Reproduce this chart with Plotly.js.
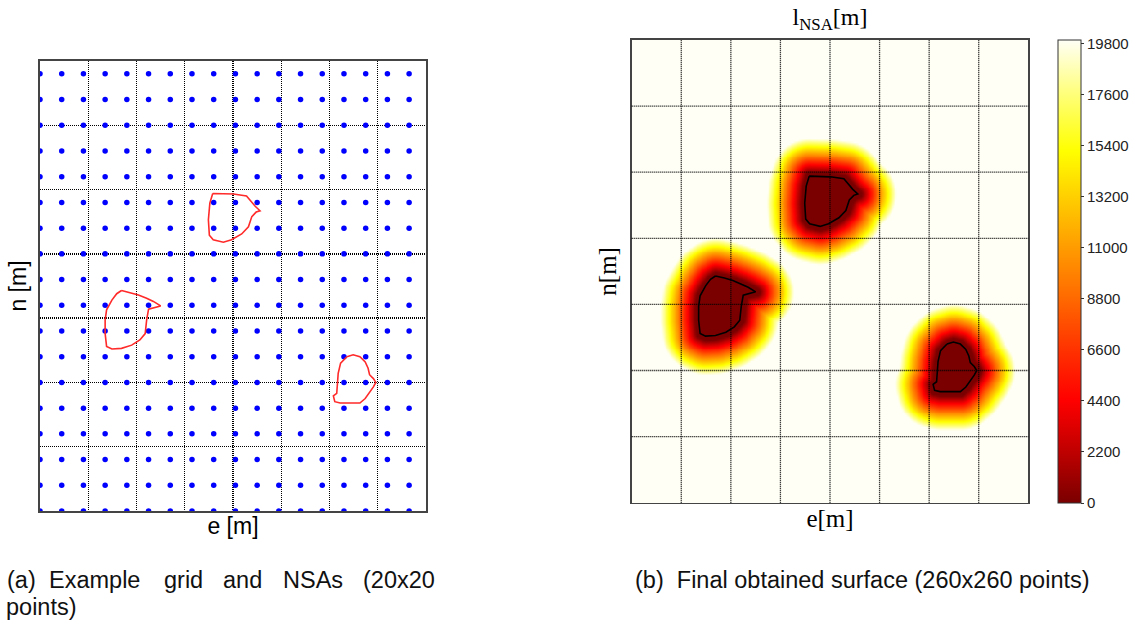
<!DOCTYPE html>
<html><head><meta charset="utf-8">
<script src="https://cdn.plot.ly/plotly-3.0.1.min.js"></script>
<style>html,body{margin:0;padding:0;background:#fff}#chart{width:1137px;height:627px}</style>
</head><body><div id="chart"></div>
<script>
// ---- DATA ----
// 20x20 sample grid (axis units)
const gridE = [0,0.45,0.9,1.35,1.8,2.25,2.7,3.15,3.6,4.05,4.5,4.95,5.4,5.85,6.3,6.75,7.2,7.65,8.1,8.55];
const gridN = [0,0.4,0.8,1.2,1.6,2.0,2.4,2.8,3.2,3.6,4.0,4.4,4.8,5.2,5.6,6.0,6.4,6.8,7.2,7.6];

// NSA contours
const nsa1E = [3.58,4.01,4.28,4.46,4.56,4.48,4.39,4.32,4.18,3.97,3.80,3.59,3.51,3.49,3.52,3.58];
const nsa1N = [4.94,4.93,4.90,4.74,4.67,4.65,4.58,4.42,4.31,4.22,4.18,4.22,4.29,4.53,4.79,4.94];

const nsa2E = [1.69,1.87,2.04,2.21,2.35,2.50,2.38,2.25,2.21,2.18,2.07,1.90,1.69,1.49,1.38,1.35,1.35,1.38,1.49,1.59,1.69];
const nsa2N = [3.43,3.40,3.36,3.31,3.26,3.19,3.17,3.14,2.97,2.76,2.66,2.58,2.53,2.52,2.56,2.76,2.97,3.13,3.28,3.38,3.43];

const nsa3E = [6.36,6.49,6.63,6.74,6.80,6.83,6.91,6.96,6.91,6.84,6.74,6.63,6.43,6.22,6.11,6.08,6.15,6.16,6.18,6.23,6.36];
const nsa3N = [2.40,2.43,2.40,2.32,2.22,2.12,2.06,2.00,1.93,1.86,1.75,1.68,1.68,1.68,1.70,1.79,1.83,1.99,2.14,2.30,2.40];

// surface colour scale / ticks
const lMax = 19950;
const cbTicks = [0,2200,4400,6600,8800,11000,13200,15400,17600,19800];
// distance (e-units) where l_NSA starts rising and where it saturates, n/e metric ratio
const rampStart = 0.08, rampEnd = 0.77, nScale = 1.333;

// ---- surface l_NSA computed from NSA contours (260x260) ----
const NS = 260;
const surfE = [], surfN = [];
for (let i = 0; i < NS; i++) { surfE.push(8.55 * i / (NS - 1)); surfN.push(7.6 * i / (NS - 1)); }
const polys = [[nsa1E, nsa1N], [nsa2E, nsa2N], [nsa3E, nsa3N]];
function segDist(px, py, ax, ay, bx, by) {
  const dx = bx - ax, dy = by - ay, L = dx * dx + dy * dy;
  let t = L ? ((px - ax) * dx + (py - ay) * dy) / L : 0;
  t = Math.max(0, Math.min(1, t));
  return Math.hypot(ax + t * dx - px, ay + t * dy - py);
}
function inside(px, py, xs, ys) {
  let c = false;
  for (let i = 0, j = xs.length - 1; i < xs.length; j = i++) {
    if (((ys[i] > py) !== (ys[j] > py)) && (px < (xs[j] - xs[i]) * (py - ys[i]) / (ys[j] - ys[i]) + xs[i])) c = !c;
  }
  return c;
}
const surfZ = [];
for (let r = 0; r < NS; r++) {
  const row = [];
  const py = surfN[r];
  for (let c = 0; c < NS; c++) {
    const px = surfE[c];
    let d = Infinity;
    for (const [xs, ys] of polys) {
      if (inside(px, py, xs, ys)) { d = 0; break; }
      for (let k = 0; k < xs.length - 1; k++) {
        const v = segDist(px, py * nScale, xs[k], ys[k] * nScale, xs[k + 1], ys[k + 1] * nScale);
        if (v < d) d = v;
      }
    }
    let f = (d - rampStart) / (rampEnd - rampStart);
    f = Math.max(0, Math.min(1, f));
    row.push(f * lMax);
  }
  surfZ.push(row);
}

// ---- traces ----
const dotX = [], dotY = [];
for (const n of gridN) for (const e of gridE) { dotX.push(e); dotY.push(n); }

const traces = [
  {type: 'scatter', mode: 'markers', x: dotX, y: dotY, xaxis: 'x', yaxis: 'y',
   marker: {size: 5.5, color: '#0000ff'}, hoverinfo: 'skip', cliponaxis: true},
];
for (const [xs, ys] of polys) {
  traces.push({type: 'scatter', mode: 'lines', x: xs, y: ys, xaxis: 'x', yaxis: 'y',
    line: {color: '#ff2a2a', width: 1.6}, hoverinfo: 'skip'});
}
traces.push({
  type: 'heatmap', x: surfE, y: surfN, z: surfZ, xaxis: 'x2', yaxis: 'y2',
  zmin: 0, zmax: lMax, zsmooth: 'best', hoverinfo: 'skip',
  colorscale: [[0, '#7a0000'], [0.111, '#bf0000'], [0.222, '#ff0000'], [0.333, '#ff3300'],
               [0.444, '#ff6a00'], [0.556, '#ff9e00'], [0.667, '#ffd200'], [0.76, '#ffff00'],
               [0.889, '#ffff80'], [1, '#fffff6']],
  colorbar: {x: 1058 / 1137, xanchor: 'left', y: 1 - 40 / 627, yanchor: 'top',
    len: 463 / 627, lenmode: 'fraction', thickness: 23, thicknessmode: 'pixels',
    outlinewidth: 1, outlinecolor: '#333', xpad: 0, ypad: 0,
    tickmode: 'array', tickvals: cbTicks, ticktext: cbTicks.map(String),
    ticks: 'outside', ticklen: 3, tickcolor: '#333',
    tickfont: {family: 'Liberation Sans, Arial, sans-serif', size: 15, color: '#222'}}
});
for (const [xs, ys] of polys) {
  traces.push({type: 'scatter', mode: 'lines', x: xs, y: ys, xaxis: 'x2', yaxis: 'y2',
    line: {color: '#000', width: 1.6}, hoverinfo: 'skip'});
}

// grid lines for right panel (drawn above surface)
const gridTickE = [1, 2, 3, 4, 5, 6, 7], gridTickN = [1, 2, 3, 4, 5, 6];
const shapes = [];
for (const v of gridTickE) shapes.push({type: 'line', xref: 'x2', yref: 'y2 domain', x0: v, x1: v, y0: 0, y1: 1,
  line: {color: '#000', width: 1.3, dash: '1px,1px'}, layer: 'above'});
for (const v of gridTickN) shapes.push({type: 'line', xref: 'x2 domain', yref: 'y2', x0: 0, x1: 1, y0: v, y1: v,
  line: {color: '#000', width: 1.3, dash: '1px,1px'}, layer: 'above'});

const sans = 'Liberation Sans, Arial, sans-serif';
const serif = 'Liberation Serif, DejaVu Serif, serif';
const P = (x) => x / 1137, Q = (y) => 1 - y / 627;

const capWords = [['(a)', 5], ['Example', 47], ['grid', 162], ['and', 221], ['NSAs', 281], ['(20x20', 361]];
const annotations = capWords.map(([t, x]) => ({text: t, xref: 'paper', yref: 'paper', x: P(x), y: Q(580),
  xanchor: 'left', yanchor: 'middle', showarrow: false, font: {family: sans, size: 23.5, color: '#111'}}));
annotations.push({text: 'points)', xref: 'paper', yref: 'paper', x: P(4), y: Q(607), xanchor: 'left', yanchor: 'middle',
  showarrow: false, font: {family: sans, size: 23.5, color: '#111'}});
annotations.push({text: '(b)  Final obtained surface (260x260 points)', xref: 'paper', yref: 'paper', x: P(862), y: Q(580),
  xanchor: 'center', yanchor: 'middle', showarrow: false, font: {family: sans, size: 23.5, color: '#111'}});

const axBase = {showline: true, mirror: true, linecolor: '#444', linewidth: 1.6, ticks: '', showticklabels: false,
  zeroline: false, fixedrange: true};

const layout = {
  width: 1137, height: 627, margin: {l: 0, r: 0, t: 0, b: 0},
  paper_bgcolor: '#fff', plot_bgcolor: '#fff', showlegend: false,
  title: {text: 'l<sub>NSA</sub>[m]', font: {family: serif, size: 24, color: '#000'},
    x: P(830), xref: 'paper', xanchor: 'center', y: Q(17), yref: 'paper', yanchor: 'middle'},
  xaxis: Object.assign({}, axBase, {domain: [P(40), P(426)], range: [0, 8], anchor: 'y',
    showgrid: true, tick0: 0, dtick: 1, gridcolor: '#000', griddash: '1px,1px', gridwidth: 1.3,
    title: {text: 'e [m]', standoff: 6, font: {family: sans, size: 23, color: '#000'}}}),
  yaxis: Object.assign({}, axBase, {domain: [Q(511), Q(61)], range: [0, 7], anchor: 'x',
    showgrid: true, tick0: 0, dtick: 1, gridcolor: '#000', griddash: '1px,1px', gridwidth: 1.3,
    title: {text: 'n [m]', standoff: 5, font: {family: sans, size: 23, color: '#000'}}}),
  xaxis2: Object.assign({}, axBase, {domain: [P(631.7), P(1028.3)], range: [0, 8], anchor: 'y2', showgrid: false,
    title: {text: 'e[m]', standoff: 6, font: {family: serif, size: 25, color: '#000'}}}),
  yaxis2: Object.assign({}, axBase, {domain: [Q(502.7), Q(40)], range: [0, 7], anchor: 'x2', showgrid: false,
    title: {text: 'n[m]', standoff: 6, font: {family: serif, size: 25, color: '#000'}}}),
  shapes: shapes, annotations: annotations
};

Plotly.newPlot('chart', traces, layout, {displayModeBar: false, staticPlot: true});
</script></body></html>
